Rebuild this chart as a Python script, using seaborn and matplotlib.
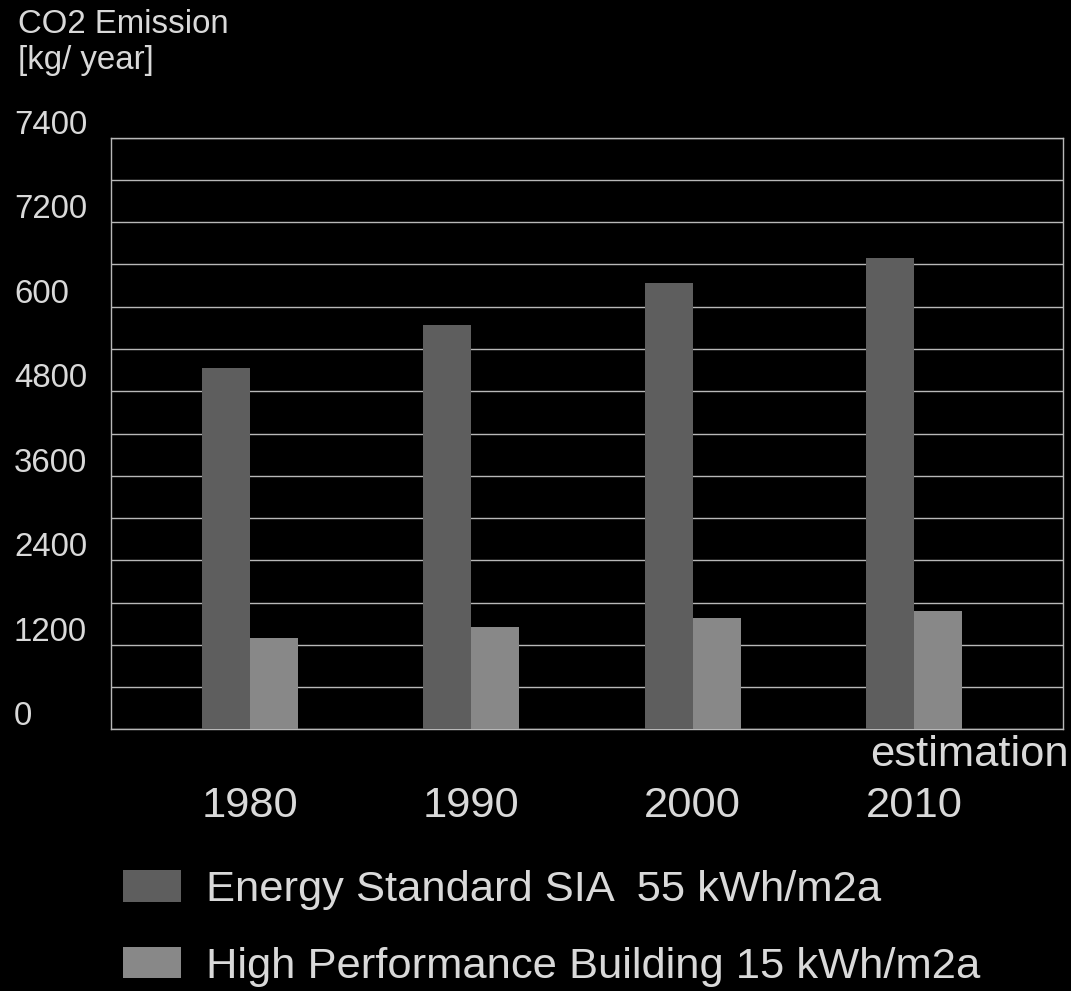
import matplotlib
matplotlib.use("Agg")
import matplotlib.pyplot as plt
import matplotlib.transforms as mtransforms
import seaborn as sns
import pandas as pd

# ---- data ----
years = ["1980", "1990", "2000", "2010"]
series_names = ["Energy Standard SIA  55 kWh/m2a", "High Performance Building 15 kWh/m2a"]
standard_vals = [5130, 5740, 6330, 6690]
high_perf_vals = [1290, 1450, 1585, 1680]
ytick_values = [0, 1200, 2400, 3600, 4800, 6000, 7200, 8400]
ytick_labels = ["0", "1200", "2400", "3600", "4800", "600", "7200", "7400"]
minor_values = [600, 1800, 3000, 4200, 5400, 6600, 7800]
title_text = "CO2 Emission\n[kg/ year]"
note_text = "estimation"

# ---- style ----
DPI = 100
W, H = 1071, 991
BG = "#000000"
TXT = "#d9d9d9"
GRID = "#b8b8b8"
DARK = "#5e5e5e"
LIGHT = "#888888"
def px(v):
    return v * 72.0 / DPI

sns.set_theme(style="dark")
plt.rcParams["font.family"] = ["Liberation Sans", "DejaVu Sans"]

df = pd.DataFrame({
    "year": years * 2,
    "value": standard_vals + high_perf_vals,
    "series": [series_names[0]] * len(years) + [series_names[1]] * len(years),
})

fig = plt.figure(figsize=(W / DPI, H / DPI), dpi=DPI, facecolor=BG)
ax = fig.add_axes([111 / W, 1 - 729.3 / H, (1063 - 111) / W, (729.3 - 137.7) / H])
ax.set_facecolor(BG)

sns.barplot(data=df, x="year", y="value", hue="series", order=years,
            hue_order=series_names, palette=[DARK, LIGHT], width=0.434,
            gap=0, saturation=1, ax=ax, zorder=3, linewidth=0)

ax.set_xlim(-0.628, 3.673)
ax.set_ylim(0, 8400)
ax.set_xlabel("")
ax.set_ylabel("")

# gridlines
LW = px(1.4)
ax.set_yticks(ytick_values)
ax.set_yticks(minor_values, minor=True)
ax.yaxis.grid(True, which="both", color=GRID, linewidth=LW)
ax.xaxis.grid(False)
ax.set_axisbelow(True)
ax.tick_params(axis="y", which="major", length=px(100), width=LW, color=GRID,
               labelleft=False, direction="out")
ax.tick_params(axis="y", which="minor", length=0, labelleft=False)
ax.tick_params(axis="x", length=0, pad=px(57), labelsize=px(43.5), labelcolor=TXT)

for s in ["left", "right", "top", "bottom"]:
    ax.spines[s].set_visible(True)
    ax.spines[s].set_color(GRID)
    ax.spines[s].set_linewidth(LW)

# y labels above lines
btrans = mtransforms.blended_transform_factory(fig.transFigure, ax.transData)
for v, lab in zip(ytick_values, ytick_labels):
    ax.annotate(lab, xy=(14 / W, v), xycoords=btrans, xytext=(0, 4),
                textcoords="offset pixels", ha="left", va="baseline",
                fontsize=px(33), color=TXT, annotation_clip=False)

# estimation note
ax.annotate(note_text, xy=(3, 0), xycoords="data", xytext=(-44, -37),
            textcoords="offset pixels", ha="left", va="baseline",
            fontsize=px(43.5), color=TXT, annotation_clip=False)

# title
fig.text(18 / W, 1 - 9 / H, title_text, ha="left", va="top", fontsize=px(33),
         color=TXT, linespacing=1.2)

# legend
handles, labels = ax.get_legend_handles_labels()
ax.get_legend().remove()
leg = fig.legend(handles, labels, loc="upper left",
                 bbox_to_anchor=(123 / W, 1 - 870 / H), frameon=False,
                 fontsize=px(43.5), handlelength=1.34, handleheight=0.74,
                 handletextpad=0.56, labelspacing=0.84, borderpad=0,
                 borderaxespad=0)
for t in leg.get_texts():
    t.set_color(TXT)

fig.savefig("out.png", dpi=DPI, facecolor=BG)
